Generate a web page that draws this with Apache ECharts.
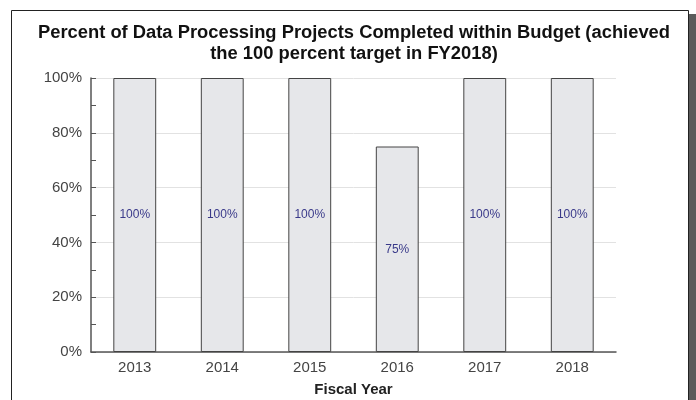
<!DOCTYPE html>
<html><head><meta charset="utf-8">
<script src="https://cdn.jsdelivr.net/npm/echarts@6/dist/echarts.min.js"></script>
<style>html,body{margin:0;padding:0;background:#fff}#c{width:696px;height:400px}</style>
</head><body><div id="c"></div>
<script>
const categories = ['2013','2014','2015','2016','2017','2018'];
const values = [100,100,100,75,100,100];
const yTicks = [0,20,40,60,80,100];

const chart = echarts.init(document.getElementById('c'), null, {renderer:'canvas'});
chart.setOption({
  animation:false,
  backgroundColor:'#fff',
  textStyle:{fontFamily:'Liberation Sans, Arial, sans-serif'},
  title:{
    text:'Percent of Data Processing Projects Completed within Budget (achieved\nthe 100 percent target in FY2018)',
    left:349, top:17, textAlign:'center',
    textStyle:{fontSize:18.35, fontWeight:'bold', color:'#111', lineHeight:21, fontFamily:'Liberation Sans, Arial, sans-serif'}
  },
  graphic:[
    {type:'rect', shape:{x:688, y:14, width:8, height:400}, style:{fill:'#5a5a5a'}, silent:true, z:-1},
    {type:'rect', shape:{x:11.5, y:10.5, width:677, height:400}, style:{fill:'none', stroke:'#222', lineWidth:1}, silent:true, z:-1}
  ],
  grid:{left:91, right:80, top:78, bottom:48, containLabel:false, outerBoundsMode:'none'},
  xAxis:{
    type:'category', data:categories,
    name:'Fiscal Year', nameLocation:'middle', nameGap:30,
    nameTextStyle:{fontSize:15, fontWeight:'bold', color:'#222'},
    axisLine:{lineStyle:{color:'#555', width:1.5}},
    axisTick:{inside:true, length:5, lineStyle:{color:'#555'}},
    axisLabel:{fontSize:15, color:'#444', margin:8}
  },
  yAxis:{
    type:'value', min:0, max:100, interval:20,
    axisLine:{show:true, lineStyle:{color:'#555', width:1.5}},
    axisTick:{show:true, inside:true, length:5, lineStyle:{color:'#555'}},
    minorTick:{show:true, splitNumber:2, length:5, lineStyle:{color:'#555'}},
    splitLine:{lineStyle:{color:'#e2e2e2'}},
    axisLabel:{fontSize:15, color:'#444', margin:9, formatter:v => yTicks.includes(v) ? v + '%' : ''}
  },
  series:[{
    type:'bar', data:values, barWidth:'49%',
    itemStyle:{color:'#e6e7ea', borderColor:'#444', borderWidth:1},
    label:{show:true, position:'inside', formatter:'{c}%', fontSize:12, color:'#3a3a8a'}
  }]
});
</script></body></html>
